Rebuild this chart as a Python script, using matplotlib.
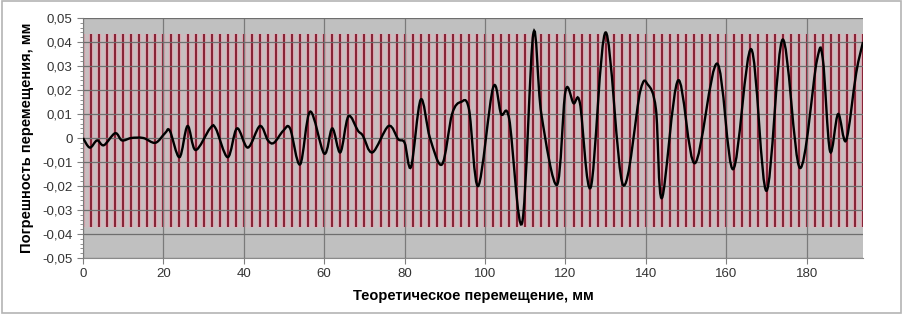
import matplotlib
matplotlib.use('Agg')
import matplotlib.pyplot as plt
from matplotlib.path import Path
from matplotlib.patches import PathPatch, Rectangle
from matplotlib.ticker import MultipleLocator, FuncFormatter

plt.rcParams['font.family'] = ['Liberation Sans', 'DejaVu Sans']

pos_mm = [0, 1.7, 3.5, 5.2, 8, 9.7, 12, 15, 18, 20.4, 21.6, 24, 26, 28, 31.6, 33,
          36, 38.3, 41, 44, 46, 47.5, 49.8, 51.5, 54, 56.5, 60, 62, 64, 66, 68.4,
          69.6, 72, 76, 78.4, 80, 81.6, 84, 86.3, 89.3, 91.8, 94, 96, 98.3, 102,
          104, 106, 109.2, 112, 114, 117.9, 120, 122, 123.6, 126.3, 130,
          134.3, 138.6, 140.5, 142.5, 144, 148, 152.2, 157.7, 161.7, 166.2, 170,
          174, 178.3, 182.5, 184, 185.8, 187.8, 189.8, 192.3, 194]
err_mm = [0, -0.004, -0.001, -0.003, 0.002, -0.001, 0.0, 0.0, -0.002, 0.002, 0.003,
          -0.008, 0.005, -0.005, 0.004, 0.004, -0.008, 0.004, -0.004, 0.005, -0.001,
          -0.002, 0.003, 0.004, -0.011, 0.011, -0.0065, 0.004, -0.006, 0.009, 0.003,
          0.001, -0.006, 0.005, -0.0005, -0.002, -0.012, 0.016, 0.0, -0.011, 0.010,
          0.015, 0.012, -0.020, 0.021, 0.010, 0.008, -0.0355, 0.0435, 0.010, -0.0195,
          0.0195, 0.0145, 0.0145, -0.0205, 0.044, -0.0195, 0.0195, 0.0222,
          0.012, -0.025, 0.024, -0.0105, 0.031, -0.013, 0.037, -0.022, 0.041,
          -0.0125, 0.032, 0.033, -0.0055, 0.010, -0.001, 0.027, 0.040]

# tolerance stems every 2 mm
stem_x = list(range(0, 195, 2))
stem_low = -0.037
stem_high = 0.0435


def smooth_path(xs, ys):
    # Excel-like smoothed line: Catmull-Rom drawn as cubic bezier segments
    n = len(xs)
    verts = [(xs[0], ys[0])]
    codes = [Path.MOVETO]
    for i in range(n - 1):
        x0, y0 = (xs[i - 1], ys[i - 1]) if i > 0 else (xs[i], ys[i])
        x1, y1 = xs[i], ys[i]
        x2, y2 = xs[i + 1], ys[i + 1]
        x3, y3 = (xs[i + 2], ys[i + 2]) if i + 2 < n else (x2, y2)
        c1 = (x1 + (x2 - x0) / 6, y1 + (y2 - y0) / 6)
        c2 = (x2 - (x3 - x1) / 6, y2 - (y3 - y1) / 6)
        verts += [c1, c2, (x2, y2)]
        codes += [Path.CURVE4] * 3
    return Path(verts, codes)


fig = plt.figure(figsize=(9.03, 3.14), dpi=100)
fig.patches.append(Rectangle((0.002, 0.004), 0.996, 0.992, transform=fig.transFigure,
                             fill=False, edgecolor='#b4b4b4', lw=1.2))
ax = fig.add_axes([0.0919, 0.1783, 0.8638, 0.7644])
ax.set_facecolor('#c0c0c0')

ax.axhspan(stem_low, stem_high, color='#c8bec0', zorder=0.5)
ax.vlines(stem_x, stem_low, stem_high, colors='#dba2ad', lw=3.0, zorder=1)
ax.vlines(stem_x, stem_low, stem_high, colors='#842234', lw=1.4, zorder=1.2)

ax.grid(True, color='#6e6e6e', lw=0.9, zorder=1.5)
ax.set_axisbelow(False)
ax.xaxis.grid(True, color='#7a7a7a', lw=0.9)

ax.add_patch(PathPatch(smooth_path(pos_mm, err_mm), fill=False, edgecolor='black',
                       lw=1.7, zorder=3))

ax.set_xlim(0, 194)
ax.set_ylim(-0.05, 0.05)
ax.xaxis.set_major_locator(MultipleLocator(20))
ax.yaxis.set_major_locator(MultipleLocator(0.01))
ax.yaxis.set_minor_locator(MultipleLocator(0.002))

def comma(v, pos):
    if abs(v) < 1e-9:
        return '0'
    return ('%.2f' % v).replace('.', ',')

ax.yaxis.set_major_formatter(FuncFormatter(comma))
ax.tick_params(axis='both', labelsize=9.5, colors='#333333', length=4, color='#808080')
ax.tick_params(axis='y', which='minor', length=2, color='#808080')
for s in ax.spines.values():
    s.set_color('#8a8a8a')
ax.spines['top'].set_visible(False)
ax.spines['right'].set_visible(False)

ax.set_xlabel('Теоретическое перемещение, мм', fontsize=10.5, fontweight='bold', labelpad=6)
ax.set_ylabel('Погрешность перемещения, мм', fontsize=10.5, fontweight='bold', labelpad=6)

fig.savefig('out.png', dpi=100)
